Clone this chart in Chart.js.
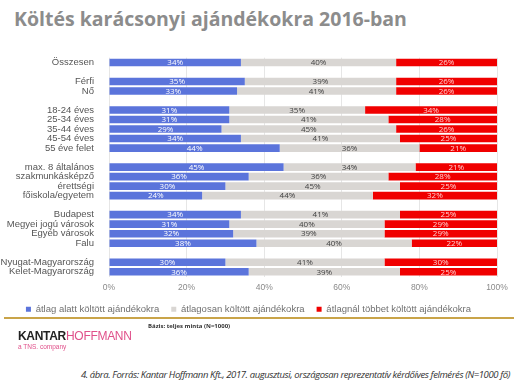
<!DOCTYPE html>
<html>
<head>
<meta charset="utf-8">
<script src="https://cdn.jsdelivr.net/npm/chart.js@4/dist/chart.umd.min.js"></script>
<style>
  body { margin: 0; width: 518px; height: 386px; background: #fff; position: relative; overflow: hidden; font-family: "Open Sans", sans-serif; }
  #title { position: absolute; left: 14px; top: 5px; font-size: 19.5px; font-weight: bold; color: #8c8c8c; }
  #wrap { position: absolute; left: 0; top: 45px; width: 518px; height: 279px; }
  #rule { position: absolute; left: 4px; top: 317px; width: 510px; height: 1.5px; background: #c9a449; }
  #basis { position: absolute; left: 148px; top: 322px; font-size: 6px; font-weight: bold; color: #333; }
  #logo { position: absolute; left: 18px; top: 326px; font-family: "Liberation Sans", Arial, sans-serif; }
  #logo .k { font-size: 12px; font-weight: bold; color: #222; letter-spacing: -0.3px; }
  #logo .h { font-size: 12px; color: #e0508a; letter-spacing: -0.3px; }
  #logo .t { font-size: 6.5px; color: #e0508a; margin-top: -1px; }
  #source { position: absolute; right: 8px; top: 368px; font-size: 9.5px; font-style: italic; color: #333; letter-spacing: -0.4px; white-space: nowrap; }
</style>
</head>
<body>
<div id="title">Költés karácsonyi ajándékokra 2016-ban</div>
<div id="wrap"><canvas id="chart"></canvas></div>
<div id="rule"></div>
<div id="basis">Bázis: teljes minta (N=1000)</div>
<div id="logo"><div><span class="k">KANTAR</span><span class="h">HOFFMANN</span></div><div class="t">a TNS. company</div></div>
<div id="source">4. ábra. Forrás: Kantar Hoffmann Kft., 2017. augusztusi, országosan reprezentatív kérdőíves felmérés (N=1000 fő)</div>
<script>
// --- DATA ---
// empty strings / nulls are the spacer rows between groups
const categories = [
  'Összesen', '',
  'Férfi', 'Nő', '',
  '18-24 éves', '25-34 éves', '35-44 éves', '45-54 éves', '55 éve felet', '',
  'max. 8 általános', 'szakmunkásképző', 'érettségi', 'főiskola/egyetem', '',
  'Budapest', 'Megyei jogú városok', 'Egyéb városok', 'Falu', '',
  'Nyugat-Magyarország', 'Kelet-Magyarország'
];
const belowAvg = [34, null, 35, 33, null, 31, 31, 29, 34, 44, null, 45, 36, 30, 24, null, 34, 31, 32, 38, null, 30, 36];
const avg      = [40, null, 39, 41, null, 35, 41, 45, 41, 36, null, 34, 36, 45, 44, null, 41, 40, 39, 40, null, 41, 39];
const aboveAvg = [26, null, 26, 26, null, 34, 28, 26, 25, 21, null, 21, 28, 25, 32, null, 25, 29, 29, 22, null, 30, 25];
const seriesNames = ['átlag alatt költött ajándékokra', 'átlagosan költött ajándékokra', 'átlagnál többet költött ajándékokra'];
const xTicks = [0, 20, 40, 60, 80, 100];

const colors = ['#5b74db', '#d9d6d3', '#f00000'];
const labelColors = ['#ffffff', '#404040', '#ffd0d0'];

// simple in-bar value labels
const valueLabels = {
  id: 'valueLabels',
  afterDatasetsDraw(chart) {
    const ctx = chart.ctx;
    ctx.save();
    ctx.font = '8px "Open Sans", sans-serif';
    ctx.textAlign = 'center';
    ctx.textBaseline = 'middle';
    chart.data.datasets.forEach((ds, i) => {
      const meta = chart.getDatasetMeta(i);
      meta.data.forEach((bar, j) => {
        const v = ds.data[j];
        if (v == null) return;
        const x0 = Math.max(bar.base, chart.chartArea.left);
        const x1 = Math.min(bar.x, chart.chartArea.right);
        ctx.fillStyle = labelColors[i];
        ctx.fillText(v + '%', (x0 + x1) / 2, bar.y + 0.5);
      });
    });
    ctx.restore();
  }
};

new Chart(document.getElementById('chart'), {
  type: 'bar',
  data: {
    labels: categories,
    datasets: [
      { label: seriesNames[0], data: belowAvg, backgroundColor: colors[0] },
      { label: seriesNames[1], data: avg, backgroundColor: colors[1] },
      { label: seriesNames[2], data: aboveAvg, backgroundColor: colors[2] }
    ]
  },
  options: {
    indexAxis: 'y',
    responsive: true,
    maintainAspectRatio: false,
    animation: false,
    layout: { padding: { left: 0, right: 21, top: 12, bottom: 0 } },
    datasets: { bar: { barPercentage: 0.8, categoryPercentage: 1 } },
    scales: {
      x: {
        stacked: true,
        min: 0, max: 100,
        afterBuildTicks: (s) => { s.ticks = xTicks.map(v => ({ value: v })); },
        afterFit: (s) => { s.height = 16; },
        ticks: { callback: v => v + '%', color: '#8a8a8a', font: { size: 8.5 }, padding: 6 },
        grid: { color: '#e6e6e6', drawTicks: false },
        border: { display: false }
      },
      y: {
        stacked: true,
        afterFit: (s) => { s.width = 109; },
        ticks: { color: '#555', font: { size: 9.5 }, autoSkip: false, padding: 7 },
        grid: { display: false },
        border: { display: false }
      }
    },
    plugins: {
      legend: {
        position: 'bottom',
        labels: { boxWidth: 5, boxHeight: 5, color: '#707070', font: { size: 9.5 }, padding: 12 }
      },
      tooltip: { enabled: false }
    }
  },
  plugins: [valueLabels]
});
</script>
</body>
</html>
